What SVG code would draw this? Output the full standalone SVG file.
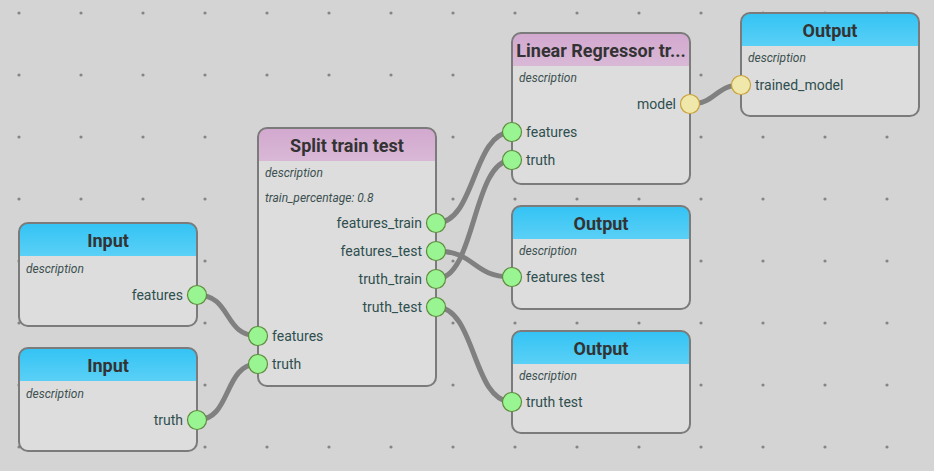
<svg xmlns="http://www.w3.org/2000/svg" width="934" height="471" viewBox="0 0 934 471">
<defs>
<pattern id="grid" x="-12" y="-18" width="62" height="62" patternUnits="userSpaceOnUse">
<circle cx="31" cy="31" r="1.6" fill="#858585"/>
</pattern>
<linearGradient id="blue" x1="0" y1="0" x2="0" y2="1">
<stop offset="0" stop-color="#33c3f4"/>
<stop offset="1" stop-color="#5ad0f6"/>
</linearGradient>
<linearGradient id="purple" x1="0" y1="0" x2="0" y2="1">
<stop offset="0" stop-color="#d2a8cf"/>
<stop offset="1" stop-color="#d9b8d6"/>
</linearGradient>
<style>
.body{fill:#dddddd;}
.border{fill:none;stroke:#7b7b7b;stroke-width:2;}
.sep{stroke:#c8c8c8;stroke-width:1;}
.title{font-family:Roboto,"Liberation Sans",sans-serif;font-weight:bold;font-size:18px;fill:#333333;text-anchor:middle;}
.desc{font-family:Roboto,"Liberation Sans",sans-serif;font-style:italic;font-size:12px;fill:#3c5050;}
.lbl{font-family:Roboto,"Liberation Sans",sans-serif;font-size:14px;fill:#2f4f4f;}
.r{text-anchor:end;}
.pg{fill:#98f592;stroke:#5e8c3e;stroke-width:1.2;}
.py{fill:#f0e8ab;stroke:#c9a23a;stroke-width:1.2;}
.wire{fill:none;stroke:#808080;stroke-width:5;stroke-linecap:round;}
</style>
</defs>
<rect width="934" height="471" fill="#d4d4d4"/>
<rect width="934" height="471" fill="url(#grid)"/>

<g id="connectors">
<path class="wire" d="M197,295 C232,295 223,336 258,336"/>
<path class="wire" d="M197,420 C232,420 223,364 258,364"/>
<path class="wire" d="M436,223 C476,223 472,132 512,132"/>
<path class="wire" d="M436,279 C476,279 472,160 512,160"/>
<path class="wire" d="M436,251 C476,251 472,277 512,277"/>
<path class="wire" d="M436,307 C476,307 472,402 512,402"/>
<path class="wire" d="M690,104 C716,104 715,85 741,85"/>
</g>

<g id="input-features">
<rect class="body" x="19" y="223" width="178" height="103" rx="9"/>
<path d="M19,256 V232 Q19,223 28,223 H188 Q197,223 197,232 V256 Z" fill="url(#blue)"/>
<rect class="border" x="19" y="223" width="178" height="103" rx="9"/>
<text class="title" x="108" y="247">Input</text>
<text class="desc" x="26" y="273">description</text>
<text class="lbl r" x="183" y="300">features</text>
<circle class="pg" cx="197" cy="295" r="9.5"/>
</g>

<g id="input-truth">
<rect class="body" x="19" y="348" width="178" height="103" rx="9"/>
<path d="M19,381 V357 Q19,348 28,348 H188 Q197,348 197,357 V381 Z" fill="url(#blue)"/>
<rect class="border" x="19" y="348" width="178" height="103" rx="9"/>
<text class="title" x="108" y="372">Input</text>
<text class="desc" x="26" y="398">description</text>
<text class="lbl r" x="183" y="425">truth</text>
<circle class="pg" cx="197" cy="420" r="9.5"/>
</g>

<g id="split-train-test">
<rect class="body" x="258" y="128" width="178" height="258" rx="9"/>
<path d="M258,161 V137 Q258,128 267,128 H427 Q436,128 436,137 V161 Z" fill="url(#purple)"/>
<rect class="border" x="258" y="128" width="178" height="258" rx="9"/>
<text class="title" x="347" y="152">Split train test</text>
<text class="desc" x="265" y="177">description</text>
<text class="desc" x="265" y="202">train_percentage: 0.8</text>
<text class="lbl r" x="422" y="228">features_train</text>
<text class="lbl r" x="422" y="256">features_test</text>
<text class="lbl r" x="422" y="284">truth_train</text>
<text class="lbl r" x="422" y="312">truth_test</text>
<text class="lbl" x="272" y="341">features</text>
<text class="lbl" x="272" y="369">truth</text>
<circle class="pg" cx="436" cy="223" r="9.5"/>
<circle class="pg" cx="436" cy="251" r="9.5"/>
<circle class="pg" cx="436" cy="279" r="9.5"/>
<circle class="pg" cx="436" cy="307" r="9.5"/>
<circle class="pg" cx="258" cy="336" r="9.5"/>
<circle class="pg" cx="258" cy="364" r="9.5"/>
</g>

<g id="linear-regressor">
<rect class="body" x="512" y="33" width="178" height="151" rx="9"/>
<path d="M512,66 V42 Q512,33 521,33 H681 Q690,33 690,42 V66 Z" fill="url(#purple)"/>
<rect class="border" x="512" y="33" width="178" height="151" rx="9"/>
<text class="title" x="601" y="57">Linear Regressor tr...</text>
<text class="desc" x="519" y="82">description</text>
<text class="lbl r" x="676" y="109">model</text>
<text class="lbl" x="526" y="137">features</text>
<text class="lbl" x="526" y="165">truth</text>
<circle class="py" cx="690" cy="104" r="9.5"/>
<circle class="pg" cx="512" cy="132" r="9.5"/>
<circle class="pg" cx="512" cy="160" r="9.5"/>
</g>

<g id="output-model">
<rect class="body" x="741" y="13" width="178" height="103" rx="9"/>
<path d="M741,46 V22 Q741,13 750,13 H910 Q919,13 919,22 V46 Z" fill="url(#blue)"/>
<rect class="border" x="741" y="13" width="178" height="103" rx="9"/>
<text class="title" x="830" y="37">Output</text>
<text class="desc" x="748" y="62">description</text>
<text class="lbl" x="755" y="90">trained_model</text>
<circle class="py" cx="741" cy="85" r="9.5"/>
</g>

<g id="output-features-test">
<rect class="body" x="512" y="206" width="178" height="103" rx="9"/>
<path d="M512,239 V215 Q512,206 521,206 H681 Q690,206 690,215 V239 Z" fill="url(#blue)"/>
<rect class="border" x="512" y="206" width="178" height="103" rx="9"/>
<text class="title" x="601" y="230">Output</text>
<text class="desc" x="519" y="255">description</text>
<text class="lbl" x="526" y="282">features test</text>
<circle class="pg" cx="512" cy="277" r="9.5"/>
</g>

<g id="output-truth-test">
<rect class="body" x="512" y="331" width="178" height="102" rx="9"/>
<path d="M512,364 V340 Q512,331 521,331 H681 Q690,331 690,340 V364 Z" fill="url(#blue)"/>
<rect class="border" x="512" y="331" width="178" height="102" rx="9"/>
<text class="title" x="601" y="355">Output</text>
<text class="desc" x="519" y="380">description</text>
<text class="lbl" x="526" y="407">truth test</text>
<circle class="pg" cx="512" cy="402" r="9.5"/>
</g>
</svg>
